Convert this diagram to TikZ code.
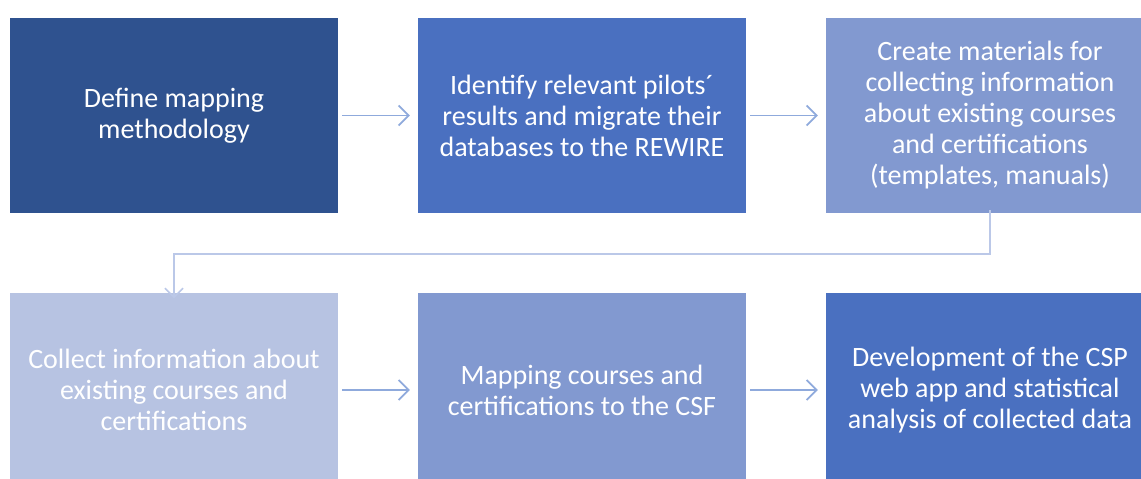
\documentclass[tikz,border=0pt]{standalone}
\usepackage{fontspec}
\setmainfont{Carlito}
\usetikzlibrary{arrows.meta}
\definecolor{cA}{HTML}{2F528F}
\definecolor{cB}{HTML}{4A70C0}
\definecolor{cC}{HTML}{8299D0}
\definecolor{cD}{HTML}{B7C3E2}
\definecolor{arr}{HTML}{8FAADC}
\definecolor{arrL}{HTML}{BBC8E8}
\begin{document}
\begin{tikzpicture}[x=1pt,y=-1pt,
  box/.style={minimum width=328pt,minimum height=195pt,inner sep=0pt,text=white,
    align=center,font=\fontsize{28}{31}\selectfont},
  flow/.style={draw=arr,line width=1.8pt,-{Straight Barb[length=10pt,width=20pt,line width=1.8pt]}},
  flowL/.style={draw=arrL,line width=1.6pt,-{Straight Barb[length=9pt,width=18pt,line width=1.6pt]}}]
\useasboundingbox (0,0) rectangle (1141,479);
\begin{scope}
\clip (0,0) rectangle (1141,479);
\node[box,fill=cA] (b1) at (174,115.5) {Define mapping\\methodology};
\node[box,fill=cB] (b2) at (582,115.5) {Identify relevant pilots´\\results and migrate their\\databases to the REWIRE};
\node[box,fill=cC] (b3) at (990,115.5) {Create materials for\\collecting information\\about existing courses\\and certifications\\(templates, manuals)};
\node[box,fill=cD] (b4) at (174,390) {Collect information about\\existing courses and\\certifications};
\node[box,fill=cC] (b5) at (582,390) {Mapping courses and\\certifications to the CSF};
\node[box,fill=cB] (b6) at (990,390) {Development of the CSP\\web app and statistical\\analysis of collected data};
\end{scope}
\coordinate (e1) at (990,254);
\coordinate (e2) at (174,254);
\draw[flow] ([xshift=4pt]b1.east) -- ([xshift=-8pt]b2.west);
\draw[flow] ([xshift=4pt]b2.east) -- ([xshift=-8pt]b3.west);
\draw[flow] ([xshift=4pt]b4.east) -- ([xshift=-8pt]b5.west);
\draw[flow] ([xshift=4pt]b5.east) -- ([xshift=-8pt]b6.west);
\draw[flowL] ([yshift=3pt]b3.south) -- (e1) -- (e2) -- ([yshift=-6pt]b4.north);
\end{tikzpicture}
\end{document}
